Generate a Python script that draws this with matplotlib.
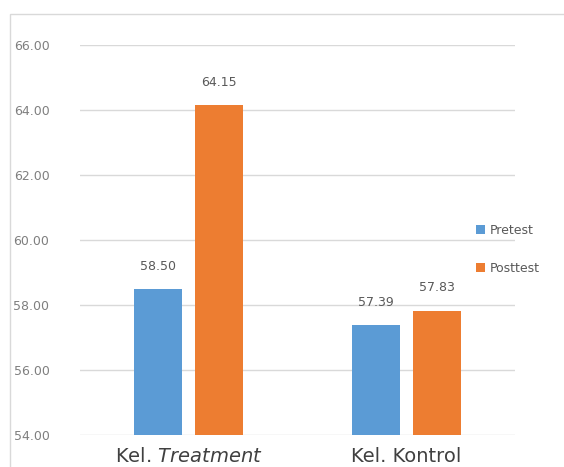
import matplotlib.pyplot as plt
import numpy as np
from matplotlib.patches import Rectangle

groups = [r'Kel. $\mathit{Treatment}$', 'Kel. Kontrol']
pretest = [58.50, 57.39]
posttest = [64.15, 57.83]
yticks = [54, 56, 58, 60, 62, 64, 66]

blue = '#5B9BD5'
orange = '#ED7D31'

fig = plt.figure(figsize=(5.64, 4.67), dpi=100)
fig.patches.append(Rectangle((10 / 564, -0.1), 1.2, 1 - 14 / 467 + 0.1,
                             transform=fig.transFigure, fill=False,
                             edgecolor='#D9D9D9', linewidth=1))
ax = fig.add_axes([80 / 564, 1 - 435 / 467, 435 / 564, 390 / 467])

x = np.arange(len(groups))
w = 0.22
gap = 0.06
b1 = ax.bar(x - (w + gap) / 2, pretest, w, color=blue, label='Pretest', zorder=3)
b2 = ax.bar(x + (w + gap) / 2, posttest, w, color=orange, label='Posttest', zorder=3)

for bars, vals in [(b1, pretest), (b2, posttest)]:
    for r, v in zip(bars, vals):
        ax.text(r.get_x() + r.get_width() / 2, v + 0.5, f'{v:.2f}',
                ha='center', va='bottom', fontsize=9, color='#595959')

ax.set_xlim(-0.5, 1.5)
ax.set_ylim(54, 66)
ax.set_yticks(yticks)
ax.set_yticklabels([f'{t:.2f}' for t in yticks], fontsize=9, color='#7F7F7F')
ax.set_xticks(x)
ax.set_xticklabels(groups, fontsize=14, color='#404040')
ax.tick_params(axis='both', length=0)
ax.tick_params(axis='y', pad=22)
ax.tick_params(axis='x', pad=9)
ax.grid(axis='y', color='#D9D9D9', linewidth=1, zorder=0)
for s in ax.spines.values():
    s.set_visible(False)

ax.legend(loc='center left', bbox_to_anchor=(0.885, 0.476), frameon=False,
          fontsize=9, labelcolor='#595959', handlelength=0.7, handleheight=0.7,
          handletextpad=0.4, labelspacing=2.0)

fig.savefig('out.png', dpi=100)
